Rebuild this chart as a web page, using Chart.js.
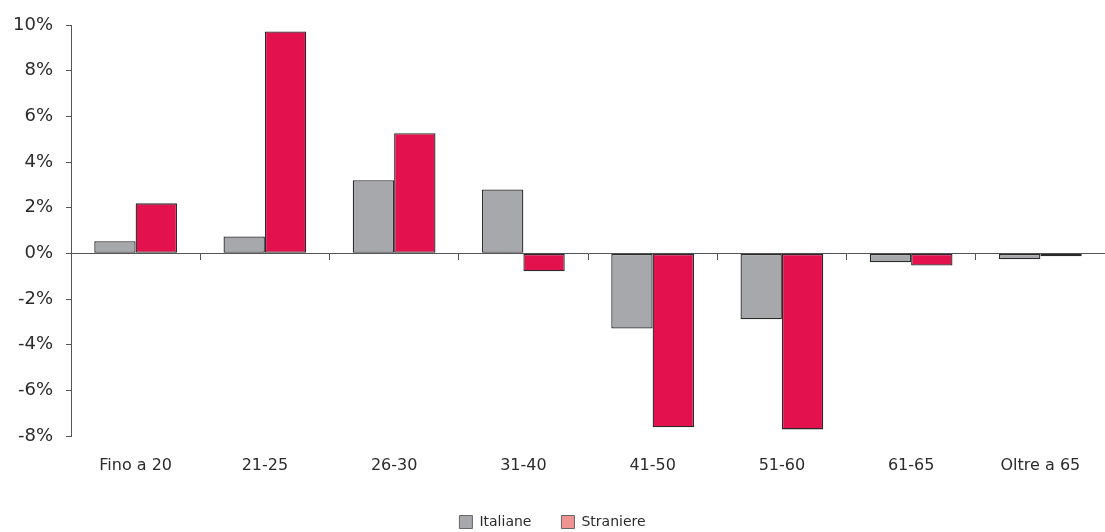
<!DOCTYPE html>
<html><head><meta charset="utf-8">
<script src="https://cdn.jsdelivr.net/npm/chart.js@4.4.0/dist/chart.umd.min.js"></script>
<style>html,body{margin:0;padding:0;background:#fff}#w{width:1105px;height:532px}</style>
</head><body><div id="w"><canvas id="c" width="1105" height="532"></canvas></div>
<script>
const categories = ["Fino a 20","21-25","26-30","31-40","41-50","51-60","61-65","Oltre a 65"];
const italiane = [0.53, 0.74, 3.2, 2.8, -3.29, -2.89, -0.39, -0.26];
const straniere = [2.19, 9.72, 5.26, -0.79, -7.62, -7.71, -0.53, -0.13];
const seriesNames = ["Italiane","Straniere"];
const yTicks = [-8,-6,-4,-2,0,2,4,6,8,10];

const FONT = "DejaVu Sans";
const txt = "#2b2b2b";
new Chart(document.getElementById('c'), {
  type: 'bar',
  data: {
    labels: categories,
    datasets: [
      {label: seriesNames[0], data: italiane, backgroundColor: '#A7A8AC', borderColor: '#2a2a2a', borderWidth: 1.3, borderSkipped: false, legendColor: '#A7A8AC'},
      {label: seriesNames[1], data: straniere, backgroundColor: '#E3124F', borderColor: '#2a2a2a', borderWidth: 1.3, borderSkipped: false, legendColor: '#F19393'}
    ]
  },
  options: {
    responsive: false,
    animation: false,
    devicePixelRatio: 1,
    layout: {padding: {top: 25, right: 0, left: 0, bottom: 0}},
    datasets: {bar: {categoryPercentage: 0.64, barPercentage: 1.0}},
    plugins: {
      tooltip: {enabled: false},
      legend: {
        position: 'bottom',
        maxHeight: 47,
        maxWidth: 1095,
        labels: {
          font: {family: FONT, size: 14}, color: txt, boxWidth: 13, boxHeight: 13, padding: 30,
          generateLabels(chart) {
            return chart.data.datasets.map((d, i) => ({
              text: d.label, fillStyle: d.legendColor, strokeStyle: '#666', lineWidth: 1, datasetIndex: i, fontColor: txt
            }));
          }
        }
      }
    },
    scales: {
      x: {
        position: 'bottom',
        grid: {display: false, drawTicks: false},
        border: {display: false},
        ticks: {font: {family: FONT, size: 16}, color: txt, padding: 20},
        afterFit(scale) { scale.height = 49; }
      },
      x2: {
        type: 'category',
        labels: categories,
        position: {y: 0},
        offset: true,
        grid: {display: true, drawOnChartArea: false, drawTicks: true, tickLength: 6, color: '#555', offset: true},
        border: {display: true, color: '#555', width: 1},
        ticks: {display: false}
      },
      y: {
        min: -8, max: 10,
        afterBuildTicks(scale) { scale.ticks = yTicks.map(v => ({value: v})); },
        grid: {display: true, drawOnChartArea: false, tickLength: 5, color: '#555'},
        border: {display: true, color: '#555', width: 1},
        ticks: {font: {family: FONT, size: 18}, color: txt, padding: 13, callback: v => v + '%'}
      }
    }
  }
});
</script></body></html>
